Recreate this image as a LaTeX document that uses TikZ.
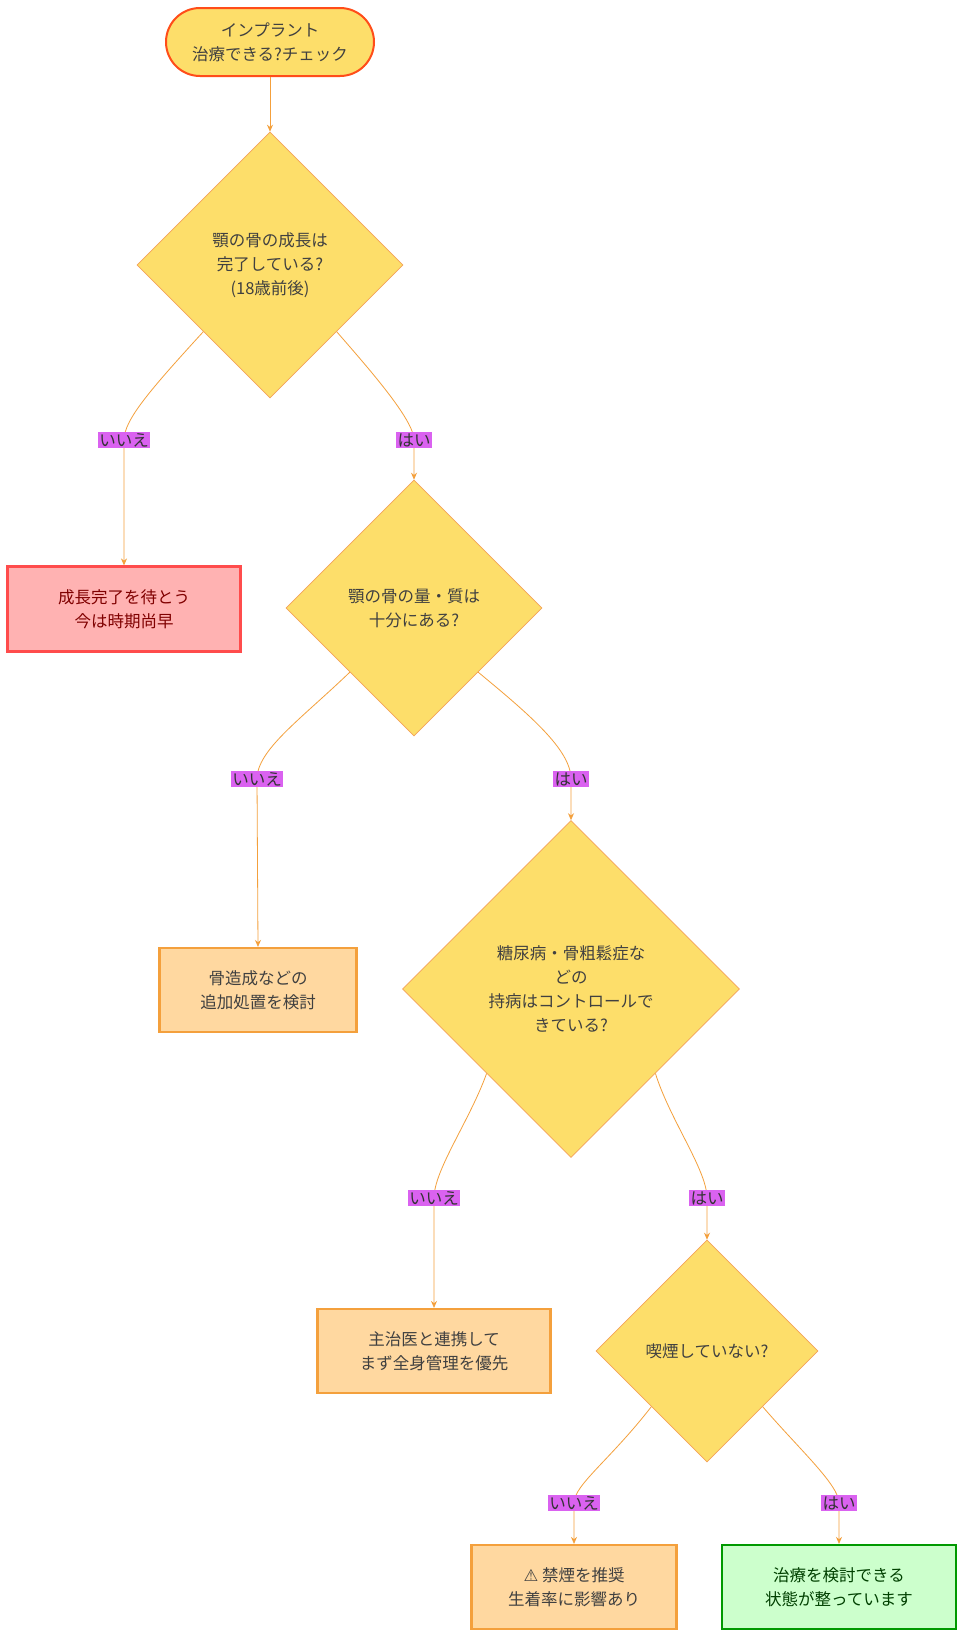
\documentclass[tikz,border=0pt]{standalone}
\usepackage{fontspec}
\setmainfont{Noto Sans CJK JP}
\newfontfamily\emo{DejaVu Sans}
\usetikzlibrary{shapes.geometric,arrows.meta}
\definecolor{dy}{HTML}{FDDE6A}
\definecolor{dyb}{HTML}{F4A259}
\definecolor{lab}{HTML}{DA62F0}
\definecolor{org}{HTML}{FFD8A0}
\definecolor{orgb}{HTML}{F4A03C}
\definecolor{edge}{HTML}{F4A03C}
\begin{document}
\begin{tikzpicture}[x=1pt,y=-1pt,
  every node/.style={font=\fontsize{16.5}{24}\selectfont, text=black!75, align=center},
  dia/.style={diamond, shape aspect=1, fill=dy, draw=dyb, line width=0.6pt, inner sep=0pt},
  box/.style={rectangle, fill=org, draw=orgb, line width=2.2pt, minimum height=84pt},
  lbl/.style={fill=lab, inner sep=1.5pt, text=black!80},
  e/.style={draw=edge, line width=0.8pt, -{Stealth[length=7pt,width=6pt]}}]
\useasboundingbox (0,0) rectangle (964,1636);
\fill[white] (0,0) rectangle (964,1636);
\node[rounded corners=34pt, fill=dy, draw=red!55!orange!90!white, line width=2pt, minimum width=208pt, minimum height=68pt] (s) at (270,42) {インプラント\\治療できる?チェック};
\node[dia, minimum width=266pt, minimum height=266pt] (d1) at (270,265) {顎の骨の成長は\\完了している?\\(18歳前後)};
\node[dia, minimum width=256pt, minimum height=256pt] (d2) at (414,608) {顎の骨の量・質は\\十分にある?};
\node[dia, minimum width=337pt, minimum height=337pt] (d3) at (571,989) {糖尿病・骨粗鬆症な\\どの\\持病はコントロールで\\きている?};
\node[dia, minimum width=222pt, minimum height=222pt] (d4) at (707,1351) {喫煙していない?};
\node[rectangle, fill=red!30, draw=red!70, line width=2.2pt, minimum width=233pt, minimum height=85pt, text=red!50!black] (r1) at (124,609) {成長完了を待とう\\今は時期尚早};
\node[box, minimum width=197pt] (r2) at (258,990) {骨造成などの\\追加処置を検討};
\node[box, minimum width=233pt] (r3) at (434,1351) {主治医と連携して\\まず全身管理を優先};
\node[box, minimum width=205pt] (r4) at (574,1587) {{\emo ⚠} 禁煙を推奨\\生着率に影響あり};
\node[rectangle, fill=green!20, draw=green!60!black, line width=2.2pt, minimum width=234pt, minimum height=84pt, text=green!25!black] (r5) at (839,1587) {治療を検討できる\\状態が整っています};
\coordinate (n1) at (124,440); \coordinate (y1) at (414,440);
\coordinate (n2) at (257,779); \coordinate (y2) at (571,779);
\coordinate (n3) at (434,1198); \coordinate (y3) at (707,1198);
\coordinate (n4) at (574,1503); \coordinate (y4) at (839,1503);
\draw[e] (s.south) -- (d1.north);
\draw[e] (d1.south west) .. controls (150,390) and (124,420) .. (n1) -- (r1.north);
\draw[e] (d1.south east) .. controls (370,370) and (414,420) .. (y1) -- (d2.north);
\draw[e] (d2.south west) .. controls (300,720) and (257,750) .. (n2) -- (r2.north);
\draw[e] (d2.south east) .. controls (530,715) and (571,750) .. (y2) -- (d3.north);
\draw[e] (d3.south west) .. controls (470,1120) and (434,1170) .. (n3) -- (r3.north);
\draw[e] (d3.south east) .. controls (670,1120) and (707,1170) .. (y3) -- (d4.north);
\draw[e] (d4.south west) .. controls (610,1460) and (574,1485) .. (n4) -- (r4.north);
\draw[e] (d4.south east) .. controls (800,1450) and (839,1485) .. (y4) -- (r5.north);
\foreach \c/\t in {n1/いいえ,y1/はい,n2/いいえ,y2/はい,n3/いいえ,y3/はい,n4/いいえ,y4/はい}
  \node[lbl] at (\c) {\t};
\end{tikzpicture}
\end{document}
